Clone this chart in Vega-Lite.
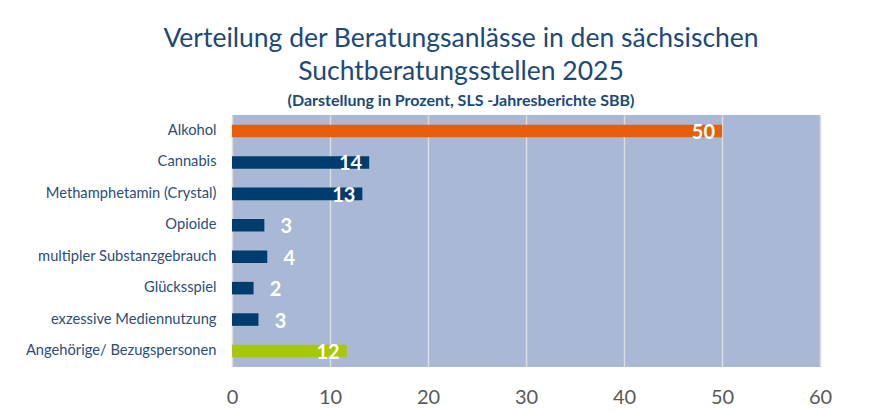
{
  "$schema": "https://vega.github.io/schema/vega-lite/v6.json",
  "width": 588,
  "height": 252,
  "autosize": {"type": "none"},
  "padding": {"left": 232, "top": 115, "right": 59, "bottom": 45},
  "background": "white",
  "title": {
    "text": ["Verteilung der Beratungsanlässe in den sächsischen", "Suchtberatungsstellen 2025"],
    "subtitle": "(Darstellung in Prozent, SLS -Jahresberichte SBB)",
    "anchor": "middle",
    "dx": -65,
    "font": "Lato",
    "fontSize": 26.5,
    "fontWeight": "normal",
    "color": "#1B4A78",
    "lineHeight": 33,
    "subtitleFont": "Lato",
    "subtitleFontSize": 16,
    "subtitleFontWeight": "bold",
    "subtitleColor": "#1B4A78",
    "subtitlePadding": 8,
    "offset": 6
  },
  "data": {
    "values": [
      {"kategorie": "Alkohol", "wert": 50, "gruppe": "Alkohol"},
      {"kategorie": "Cannabis", "wert": 14, "gruppe": "Substanz"},
      {"kategorie": "Methamphetamin (Crystal)", "wert": 13.3, "gruppe": "Substanz"},
      {"kategorie": "Opioide", "wert": 3.3, "gruppe": "Substanz"},
      {"kategorie": "multipler Substanzgebrauch", "wert": 3.6, "gruppe": "Substanz"},
      {"kategorie": "Glücksspiel", "wert": 2.2, "gruppe": "Substanz"},
      {"kategorie": "exzessive Mediennutzung", "wert": 2.7, "gruppe": "Substanz"},
      {"kategorie": "Angehörige/ Bezugspersonen", "wert": 11.7, "gruppe": "Angehörige"}
    ]
  },
  "config": {"view": {"fill": "#A9B8D4", "stroke": null}},
  "encoding": {
    "y": {
      "field": "kategorie",
      "type": "nominal",
      "sort": null,
      "scale": {"paddingInner": 0.6, "paddingOuter": 0.31},
      "axis": {
        "title": null,
        "domain": false,
        "ticks": false,
        "labelFont": "Lato",
        "labelFontSize": 14.7,
        "labelColor": "#2B4E75",
        "labelPadding": 16,
        "labelLimit": 400
      }
    },
    "x": {
      "field": "wert",
      "type": "quantitative",
      "scale": {"domain": [0, 60], "nice": false},
      "axis": {
        "title": null,
        "values": [0, 10, 20, 30, 40, 50, 60],
        "domain": false,
        "ticks": false,
        "grid": true,
        "gridColor": "#DADCE0",
        "gridWidth": 1.5,
        "labelFlush": false,
        "labelFont": "Lato",
        "labelFontSize": 20,
        "labelColor": "#595959",
        "labelPadding": 20
      }
    }
  },
  "layer": [
    {
      "mark": {"type": "bar", "cornerRadius": 0},
      "encoding": {
        "color": {
          "field": "gruppe",
          "type": "nominal",
          "scale": {"domain": ["Alkohol", "Substanz", "Angehörige"], "range": ["#E85E0C", "#003D6E", "#A7C60E"]},
          "legend": null
        }
      }
    },
    {
      "transform": [{"filter": "datum.wert >= 10"}],
      "mark": {"type": "text", "align": "right", "baseline": "middle", "dx": -7, "dy": 2, "font": "Lato", "fontSize": 20, "fontWeight": "bold", "fill": "white"},
      "encoding": {"text": {"field": "wert", "type": "quantitative", "format": ".0f"}}
    },
    {
      "transform": [{"filter": "datum.wert < 10"}],
      "mark": {"type": "text", "align": "center", "baseline": "middle", "dx": 22, "dy": 2, "font": "Lato", "fontSize": 20, "fontWeight": "bold", "fill": "white"},
      "encoding": {"text": {"field": "wert", "type": "quantitative", "format": ".0f"}}
    }
  ]
}
